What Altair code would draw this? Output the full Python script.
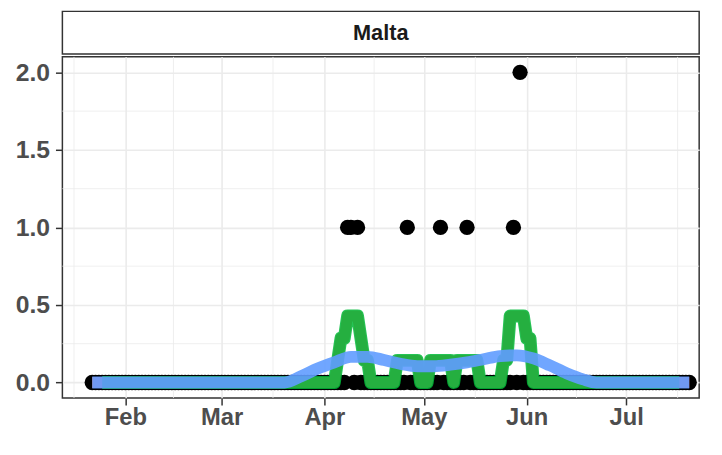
import altair as alt
import pandas as pd

# ---- data ----
first_day = "2020-01-22"
last_day = "2020-07-20"
# daily new cases (all other days are 0)
nonzero_days = ["2020-04-08", "2020-04-09", "2020-04-11", "2020-04-26",
                "2020-05-06", "2020-05-14", "2020-05-28", "2020-05-30"]
nonzero_vals = [1, 1, 1, 1, 1, 1, 1, 2]

# smoothed trend (blue)
smooth_days = ["2020-01-22", "2020-03-20", "2020-03-25", "2020-03-30", "2020-04-04",
               "2020-04-09", "2020-04-14", "2020-04-19", "2020-04-24", "2020-04-29",
               "2020-05-04", "2020-05-09", "2020-05-14", "2020-05-19", "2020-05-24",
               "2020-05-29", "2020-06-03", "2020-06-08", "2020-06-13", "2020-06-18",
               "2020-06-22", "2020-07-20"]
smooth_vals = [0.0, 0.0, 0.04, 0.09, 0.13,
               0.165, 0.165, 0.145, 0.12, 0.105,
               0.105, 0.115, 0.13, 0.15, 0.17,
               0.175, 0.155, 0.11, 0.06, 0.02,
               0.0, 0.0]

month_ticks = [2, 3, 4, 5, 6, 7]
minor_x = ["2020-01-16T12:00:00Z", "2020-02-15T12:00:00Z", "2020-03-16T12:00:00Z",
           "2020-04-16T00:00:00Z", "2020-05-16T12:00:00Z", "2020-06-16T00:00:00Z",
           "2020-07-16T12:00:00Z"]
y_ticks = [0.0, 0.5, 1.0, 1.5, 2.0]
minor_y = [0.25, 0.75, 1.25, 1.75]
country = "Malta"

# ---- tables ----
days = [d.strftime("%Y-%m-%d") for d in pd.date_range(first_day, last_day, freq="D")]
counts = dict(zip(nonzero_days, nonzero_vals))
daily = pd.DataFrame({"date": days, "cases": [counts.get(d, 0) for d in days]})
smooth = pd.DataFrame({"date": smooth_days, "value": smooth_vals})

FONT = "Liberation Sans"
W, H = 644, 345

x_scale = alt.Scale(type="utc",
                    domain=[alt.DateTime(year=2020, month=1, date=13, utc=True),
                            alt.DateTime(year=2020, month=7, date=23, utc=True)])
y_scale = alt.Scale(domain=[-0.1, 2.1], nice=False, zero=False)

x_axis = alt.Axis(values=[alt.DateTime(year=2020, month=m, date=1, utc=True) for m in month_ticks],
                  labelExpr="utcFormat(datum.value, '%b')", title=None)
y_axis = alt.Axis(values=y_ticks, format=".1f", title=None)

x_enc = alt.X("date:T", scale=x_scale, axis=x_axis, title=None)
y_none = alt.Y("cases:Q", scale=y_scale, axis=y_axis, title=None)

grid_x = alt.Chart(pd.DataFrame({"date": minor_x})).mark_rule(
    color="#EBEBEB", strokeWidth=0.8).encode(x=x_enc)
grid_y = alt.Chart(pd.DataFrame({"cases": minor_y})).mark_rule(
    color="#EBEBEB", strokeWidth=0.8).encode(y=y_none)

points = alt.Chart(daily).mark_circle(size=240, color="black", opacity=1).encode(
    x=x_enc, y=y_none)

red = alt.Chart(daily).transform_window(
    roll="mean(cases)", frame=[-3, 3], sort=[alt.SortField("date")]
).mark_line(color="#F8766D", strokeWidth=11, strokeJoin="round").encode(
    x=x_enc, y=alt.Y("roll:Q", scale=y_scale, axis=y_axis, title=None))

green = alt.Chart(daily).transform_window(
    roll="mean(cases)", n="count()", frame=[-3, 3], sort=[alt.SortField("date")]
).transform_filter("datum.n == 7").mark_line(
    color="#00BA38", strokeWidth=13, opacity=0.85, strokeJoin="round").encode(
    x=x_enc, y=alt.Y("roll:Q", scale=y_scale, axis=y_axis, title=None))

blue = alt.Chart(smooth).mark_line(
    color="#619CFF", strokeWidth=12, opacity=0.9, interpolate="monotone").encode(
    x=x_enc, y=alt.Y("value:Q", scale=y_scale, axis=y_axis, title=None))

main = alt.layer(grid_x, grid_y, points, red, green, blue).properties(width=W, height=H)

strip = alt.Chart(pd.DataFrame({"label": [country]})).mark_text(
    font=FONT, fontWeight="bold", fontSize=22, color="#1A1A1A", baseline="middle", align="center"
).encode(text="label:N", x=alt.value(W / 2), y=alt.value(21.5)).properties(width=W, height=43)

chart = alt.vconcat(strip, main, spacing=0).properties(
    padding={"left": 6, "top": 0, "right": 0, "bottom": 0}
).configure_view(
    stroke="#333333", strokeWidth=1.5
).configure_axis(
    labelFont=FONT, labelFontWeight="bold", labelFontSize=25, labelColor="#4D4D4D",
    tickColor="#333333", tickSize=7, tickWidth=1.5, labelPadding=6,
    domain=False, grid=True, gridColor="#EBEBEB", gridWidth=1.6
).configure_axisX(labelPadding=1, labelFontSize=24)

chart.save("out.html", embed_options={"renderer": "svg", "actions": False})
